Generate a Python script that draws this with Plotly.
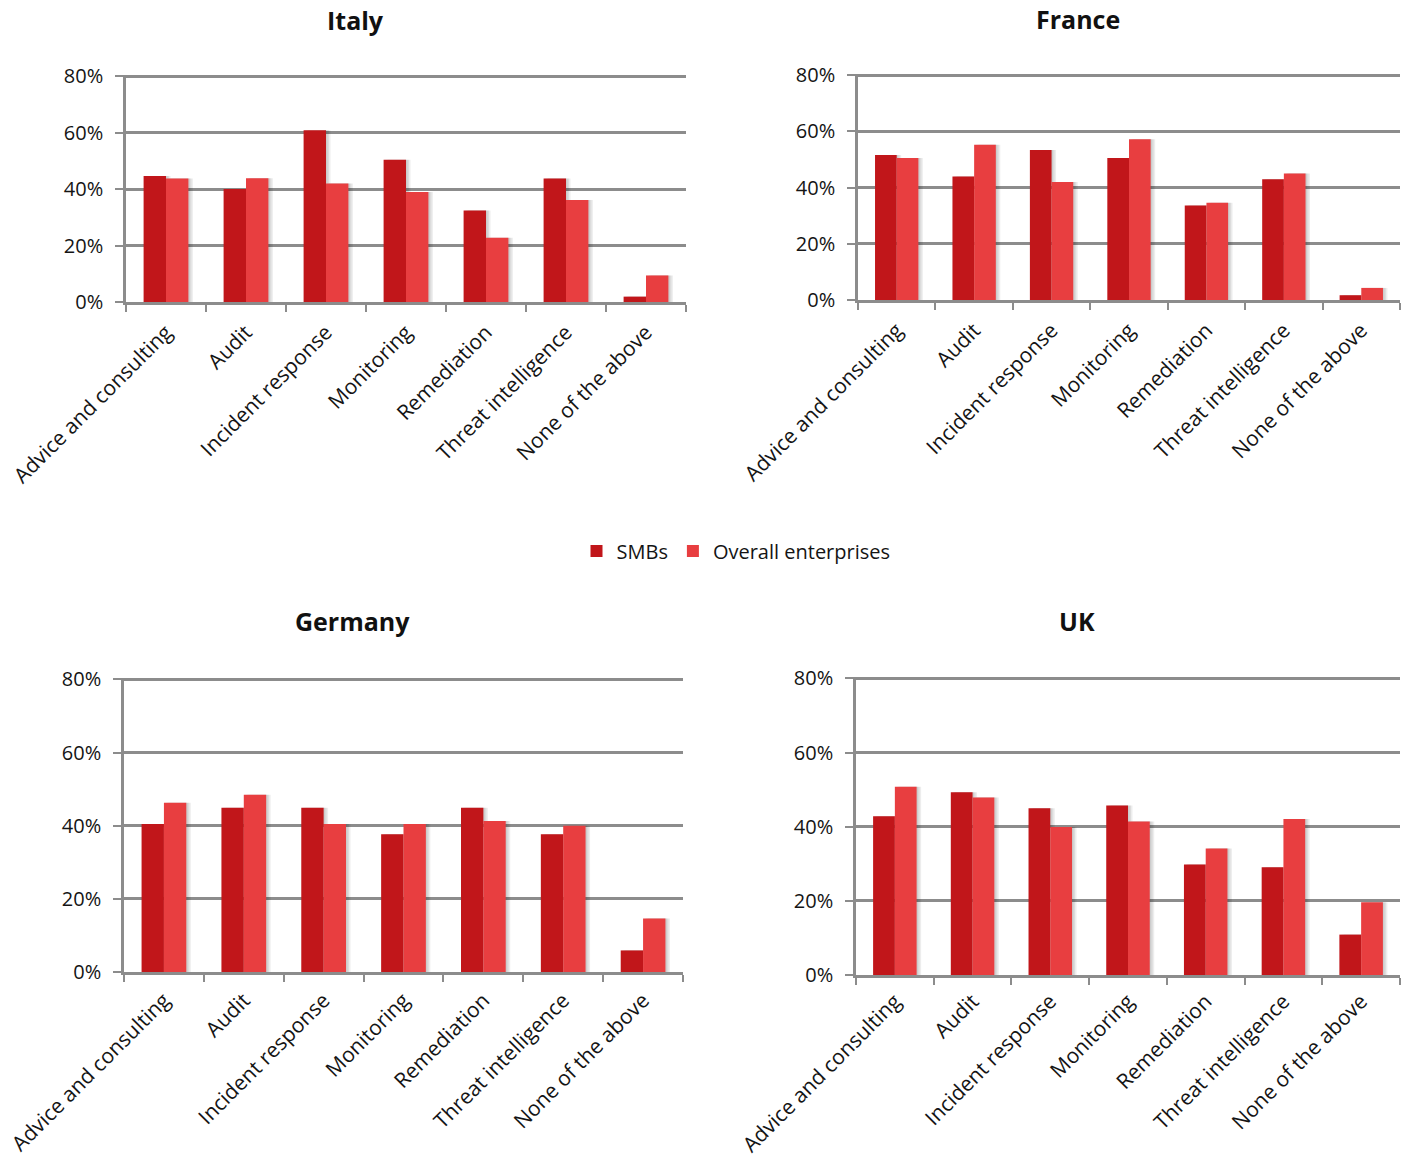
import plotly.graph_objects as go

# Services purchased, share of respondents (%) by country
categories = [
    "Advice and consulting",
    "Audit",
    "Incident response",
    "Monitoring",
    "Remediation",
    "Threat intelligence",
    "None of the above",
]
countries = ["Italy", "France", "Germany", "UK"]
series_names = ["SMBs", "Overall enterprises"]

italy_smb = [44.6, 40.0, 60.8, 50.4, 32.4, 43.7, 1.9]
italy_overall = [43.7, 43.8, 42.0, 39.0, 22.8, 36.1, 9.4]
france_smb = [51.6, 43.9, 53.4, 50.5, 33.6, 43.0, 1.7]
france_overall = [50.5, 55.2, 42.0, 57.2, 34.6, 45.0, 4.3]
germany_smb = [40.5, 44.9, 44.9, 37.7, 44.9, 37.7, 5.9]
germany_overall = [46.3, 48.5, 40.5, 40.5, 41.3, 40.0, 14.6]
uk_smb = [42.8, 49.3, 45.0, 45.7, 29.8, 29.1, 10.9]
uk_overall = [50.8, 47.9, 39.9, 41.4, 34.1, 42.1, 19.6]

y_tick_values = [0, 20, 40, 60, 80]
y_tick_labels = ["0%", "20%", "40%", "60%", "80%"]

W, H = 1407, 1160
SMB_COLOR = "#c1161a"
OVERALL_COLOR = "#e83e40"
GRID = "#8c8c8c"
TEXT = "#141414"
FONT = "Open Sans"

# pixel boxes of the four plot areas: (left, right, top, bottom)
boxes = {
    "Italy": (126, 686, 75, 302),
    "France": (858, 1400, 74, 300),
    "Germany": (124, 683, 678, 972),
    "UK": (856, 1400, 677, 975),
}
title_pos = {"Italy": (355, 20), "France": (1078, 19), "Germany": (353, 621), "UK": (1077, 621)}
label_standoff = {"Italy": 7, "France": 7, "Germany": 5, "UK": 3}
data = {
    "Italy": (italy_smb, italy_overall),
    "France": (france_smb, france_overall),
    "Germany": (germany_smb, germany_overall),
    "UK": (uk_smb, uk_overall),
}

BAR_W = 0.28          # width of one bar, in category units
SHADOW_STEPS = [1.5, 3.0, 4.5]   # soft drop shadow, px to the right

fig = go.Figure()
layout_axes = {}
annotations = []

for i, country in enumerate(countries, start=1):
    suffix = "" if i == 1 else str(i)
    xa, ya = "x" + suffix, "y" + suffix
    smb, overall = data[country]
    l, r, t, b = boxes[country]
    px_unit = len(categories) / (r - l)  # category units per pixel
    series = list(zip(series_names, (smb, overall), (SMB_COLOR, OVERALL_COLOR), (-BAR_W, 0.0)))

    # shadow layers behind the bars
    for name, vals, color, off in series:
        for dx in SHADOW_STEPS:
            fig.add_trace(go.Bar(
                x=categories, y=vals, xaxis=xa, yaxis=ya,
                offset=off + dx * px_unit, width=BAR_W,
                marker=dict(color="rgba(0,0,0,0.07)", line=dict(width=0)),
                showlegend=False, hoverinfo="skip",
            ))
    for name, vals, color, off in series:
        fig.add_trace(go.Bar(
            x=categories, y=vals, name=name, xaxis=xa, yaxis=ya,
            offset=off, width=BAR_W,
            marker=dict(color=color, line=dict(width=0)),
            showlegend=(i == 1), legendgroup=name,
            hovertemplate="%{x}: %{y:.0f}%<extra>" + name + "</extra>",
        ))

    layout_axes["xaxis" + suffix] = dict(
        domain=[l / W, r / W], anchor=ya, type="category", automargin=False,
        range=[-0.5, len(categories) - 0.5],
        tickson="boundaries", ticks="outside", ticklen=7, tickwidth=2, tickcolor=GRID,
        showline=True, linecolor=GRID, linewidth=2.5,
        showgrid=False, tickangle=-45, ticklabelstandoff=label_standoff[country],
        tickfont=dict(family=FONT, size=21, color=TEXT),
        fixedrange=True,
    )
    layout_axes["yaxis" + suffix] = dict(
        domain=[1 - b / H, 1 - t / H], anchor=xa, automargin=False,
        range=[0, 80.4], tickvals=y_tick_values, ticktext=y_tick_labels,
        ticks="outside", ticklen=8, tickwidth=2, tickcolor=GRID,
        showline=True, linecolor=GRID, linewidth=2.5, ticklabelstandoff=8,
        showgrid=True, gridcolor=GRID, gridwidth=2.5, zeroline=False,
        tickfont=dict(family=FONT, size=20, color=TEXT),
        fixedrange=True,
    )
    tx, ty = title_pos[country]
    annotations.append(dict(
        text="<b>" + country + "</b>", x=tx / W, y=1 - ty / H,
        xref="paper", yref="paper", xanchor="center", yanchor="middle",
        showarrow=False, font=dict(family=FONT, size=25, color="#111111"),
    ))

fig.update_layout(
    width=W, height=H,
    margin=dict(l=0, r=0, t=0, b=0, autoexpand=False),
    paper_bgcolor="white", plot_bgcolor="white",
    barmode="overlay",
    font=dict(family=FONT, size=20, color=TEXT),
    annotations=annotations,
    legend=dict(
        orientation="h", x=736 / W, y=1 - 551 / H, xanchor="center", yanchor="middle",
        font=dict(family=FONT, size=20, color=TEXT),
        itemwidth=30, tracegroupgap=0, bgcolor="rgba(0,0,0,0)",
    ),
    **layout_axes,
)

fig.write_html("out.html")
